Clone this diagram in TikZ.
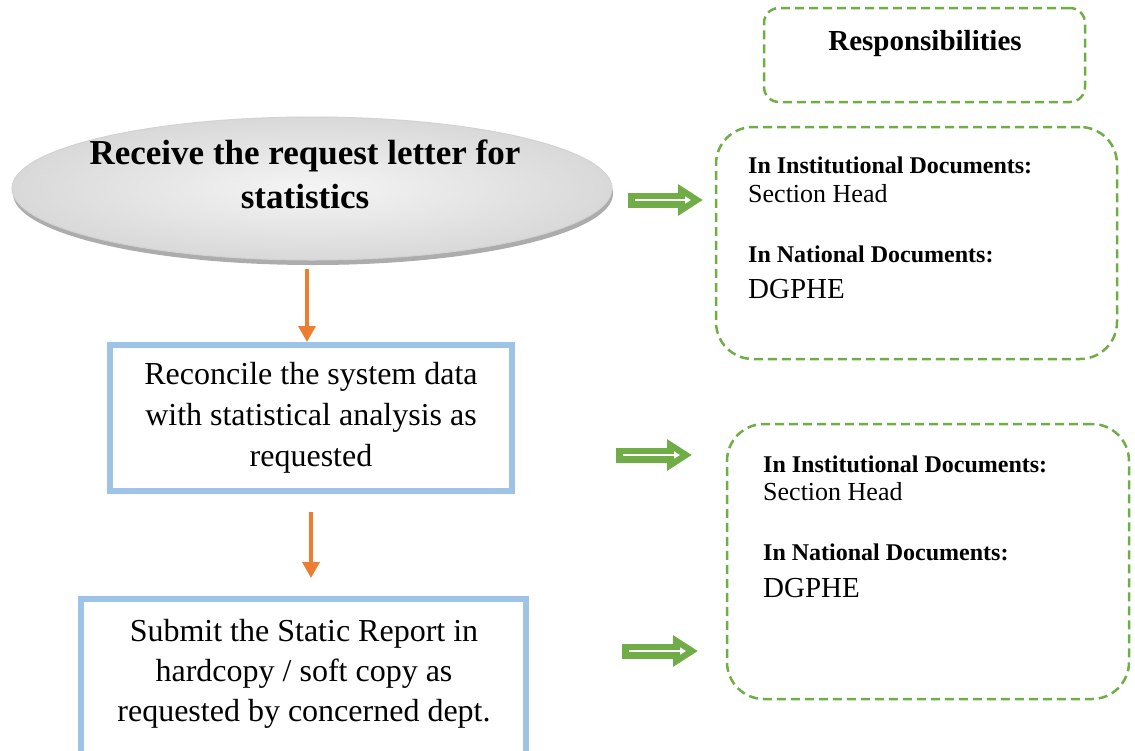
\documentclass[tikz,border=0pt]{standalone}
\usepackage{fontspec}
\setmainfont{Liberation Serif}
\usetikzlibrary{arrows.meta,shapes.geometric,shadows}
\definecolor{ggreen}{HTML}{70AD47}
\definecolor{oorange}{HTML}{ED7D31}
\definecolor{bblue}{HTML}{9DC3E6}
\tikzset{
  bluebox/.style={draw=bblue, line width=6pt, inner sep=0pt, align=center,
    font=\fontsize{32}{41}\selectfont},
  resbox/.style={draw=ggreen, line width=2.5pt, dash pattern=on 9pt off 5pt, inner sep=0pt},
  orarrow/.style={draw=oorange, line width=3.5pt, -{Triangle[length=16pt,width=17pt]}},
  grarrow/.style={draw=ggreen, line width=15pt, -{Triangle[length=25pt,width=30pt]}},
  wharrow/.style={draw=white, line width=2pt, -{Triangle[length=6pt,width=7pt]}},
  hd/.style={anchor=base west, inner sep=0pt, font=\fontsize{24}{28}\selectfont\bfseries},
  nm/.style={anchor=base west, inner sep=0pt, font=\fontsize{26}{30}\selectfont},
  big/.style={anchor=base west, inner sep=0pt, font=\fontsize{29}{33}\selectfont},
}
\begin{document}
\begin{tikzpicture}[x=1pt,y=-1pt]
\useasboundingbox (0,0) rectangle (1135,750);

% main ellipse
\node[ellipse, minimum width=600pt, minimum height=143pt, inner sep=0pt,
  draw=gray!35, line width=1pt, shading=radial, inner color=gray!8, outer color=gray!30,
  drop shadow={shadow xshift=1pt, shadow yshift=-5pt, fill=gray!65, opacity=1}]
  (e) at (312,188.5) {};
\node[align=center, inner sep=0pt, font=\fontsize{35}{44}\selectfont\bfseries]
  (et) at (305,174) {Receive the request letter for\\statistics};

% blue boxes
\node[bluebox, minimum width=402pt, minimum height=146pt] (b1) at (311,418)
  {Reconcile the system data\\with statistical analysis as\\requested};
\node[bluebox, minimum width=445pt, minimum height=165pt, anchor=north] (b2) at (303.5,596) {};
\node[align=center, inner sep=0pt, font=\fontsize{32}{40}\selectfont] (b2t) at (304,674)
  {Submit the Static Report in\\hardcopy / soft copy as\\requested by concerned dept.};

% orange connectors
\draw[orarrow, shorten <=8pt] ([xshift=-5pt]e.south) -- ([xshift=-5pt]e.south |- b1.north);
\draw[orarrow, shorten <=18pt, shorten >=18pt] (b1.south) -- (b1.south |- b2.north);

% responsibility boxes
\node[resbox, rounded corners=15pt, minimum width=321pt, minimum height=94pt] (rh) at (924.5,55) {};
\node[anchor=base, inner sep=0pt, font=\fontsize{29}{32}\selectfont\bfseries] (rht) at (925,50) {Responsibilities};

\node[resbox, rounded corners=37pt, minimum width=401pt, minimum height=232pt] (r1) at (916.5,243) {};
\node[hd] (r1a) at (748,173) {In Institutional Documents:};
\node[nm] (r1b) at (748,202) {Section Head};
\node[hd] (r1c) at (748,262) {In National Documents:};
\node[big] (r1d) at (748,298) {DGPHE};

\node[resbox, rounded corners=37pt, minimum width=402pt, minimum height=275pt] (r2) at (928,561.5) {};
\node[hd] (r2a) at (763,472) {In Institutional Documents:};
\node[nm] (r2b) at (763,500) {Section Head};
\node[hd] (r2c) at (763,560) {In National Documents:};
\node[big] (r2d) at (763,597) {DGPHE};

% green arrows
\coordinate (g1s) at (628,200); \coordinate (g1e) at (703,200);
\coordinate (g2s) at (616,455); \coordinate (g2e) at (692,455);
\coordinate (g3s) at (622,651); \coordinate (g3e) at (698,651);
\foreach \s/\t in {g1s/g1e, g2s/g2e, g3s/g3e}{
  \draw[grarrow] (\s) -- (\t);
  \draw[wharrow, shorten <=7pt, shorten >=12pt] (\s) -- (\t);
}
\end{tikzpicture}
\end{document}
